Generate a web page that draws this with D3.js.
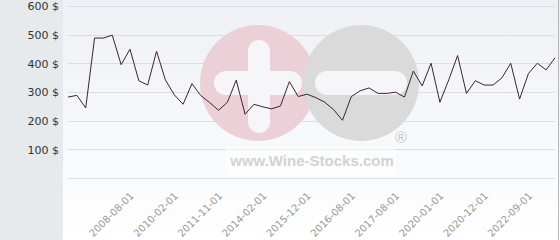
<!DOCTYPE html>
<html>
<head>
<meta charset="utf-8">
<script src="https://cdn.jsdelivr.net/npm/d3@7"></script>
<style>
  html, body { margin: 0; padding: 0; background: #fff; }
  svg { display: block; font-family: "DejaVu Sans", sans-serif; }
</style>
</head>
<body>
<div id="chart"></div>
<script>
// price per sale, in order
const prices = [
  284, 290, 246, 490, 490, 500, 397, 451, 341, 326,
  444, 344, 292, 259, 331, 289, 265, 238, 266, 343,
  224, 259, 250, 243, 253, 338, 286, 294, 282, 266,
  240, 203, 286, 306, 316, 297, 297, 301, 284, 375,
  323, 402, 266, 344, 429, 297, 341, 326, 326, 351,
  402, 277, 366, 402, 379, 421
];
const tickIndices = [7, 12, 17, 22, 27, 32, 37, 42, 47, 52];
const tickLabels = ["2008-08-01", "2010-02-01", "2011-11-01", "2014-02-01", "2015-12-01",
  "2016-08-01", "2017-08-01", "2020-01-01", "2020-12-01", "2022-09-01"];
const yTicks = [0, 100, 200, 300, 400, 500, 600];

const W = 560, H = 240;
const plotLeft = 68, plotRight = 555, plotTop = 6.5, plotBottom = 178.5;

const svg = d3.select("#chart").append("svg")
  .attr("width", W)
  .attr("height", H);

const defs = svg.append("defs");
const grad = defs.append("linearGradient")
  .attr("id", "bg")
  .attr("x1", 0).attr("y1", 0).attr("x2", 0).attr("y2", 1);
grad.append("stop").attr("offset", "0%").attr("stop-color", "#eef0f5");
grad.append("stop").attr("offset", "100%").attr("stop-color", "#ffffff");

svg.append("rect")
  .attr("x", 63).attr("y", 0)
  .attr("width", W - 63).attr("height", H)
  .attr("fill", "url(#bg)");

svg.append("rect")
  .attr("x", 0).attr("y", 0)
  .attr("width", 63).attr("height", H)
  .attr("fill", "#e6eaed");

svg.append("line")
  .attr("x1", 558.5).attr("x2", 558.5)
  .attr("y1", 0).attr("y2", H)
  .attr("stroke", "#b4b4b4");

const x = d3.scalePoint()
  .domain(d3.range(prices.length))
  .range([plotLeft, plotRight]);

const y = d3.scaleLinear()
  .domain([0, 600])
  .range([plotBottom, plotTop]);

// grid
svg.append("g")
  .selectAll("line")
  .data(yTicks)
  .enter()
  .append("line")
  .attr("x1", plotLeft).attr("x2", plotRight)
  .attr("y1", d => Math.round(y(d) - 0.5) + 0.5)
  .attr("y2", d => Math.round(y(d) - 0.5) + 0.5)
  .attr("stroke", "#dcdde0");

// watermark
const wm = svg.append("g");
wm.append("circle").attr("cx", 258).attr("cy", 83).attr("r", 58).attr("fill", "#ebd0d8");
wm.append("circle").attr("cx", 361).attr("cy", 83).attr("r", 58).attr("fill", "#dadadb");
wm.append("rect").attr("x", 248).attr("y", 40).attr("width", 22).attr("height", 93)
  .attr("rx", 11).attr("fill", "#f6f6f9");
wm.append("rect").attr("x", 214).attr("y", 71).attr("width", 88).attr("height", 24)
  .attr("rx", 12).attr("fill", "#f6f6f9");
wm.append("rect").attr("x", 315).attr("y", 71).attr("width", 92).attr("height", 24)
  .attr("rx", 12).attr("fill", "#f6f6f9");
wm.append("rect").attr("x", 226).attr("y", 147).attr("width", 170).attr("height", 28)
  .attr("fill", "#ffffff").attr("opacity", 0.5);
wm.append("text")
  .attr("x", 312).attr("y", 166)
  .attr("text-anchor", "middle")
  .attr("font-family", "Liberation Sans, Arial, sans-serif")
  .attr("font-weight", "bold")
  .attr("font-size", 15)
  .attr("fill", "#d2d2d4")
  .text("www.Wine-Stocks.com");
wm.append("text")
  .attr("x", 401).attr("y", 143)
  .attr("text-anchor", "middle")
  .attr("font-family", "Liberation Sans, Arial, sans-serif")
  .attr("font-size", 16)
  .attr("fill", "#c8c8ca")
  .text("®");

// y labels
svg.append("g")
  .selectAll("text")
  .data(yTicks.filter(d => d > 0))
  .enter()
  .append("text")
  .attr("x", 59)
  .attr("y", d => y(d))
  .attr("dy", "0.35em")
  .attr("text-anchor", "end")
  .attr("font-size", 11)
  .attr("fill", "#333")
  .text(d => d + " $");

// x labels
svg.append("g")
  .selectAll("text")
  .data(tickIndices)
  .enter()
  .append("text")
  .attr("transform", d => `translate(${x(d) + 2},${194}) rotate(-45)`)
  .attr("text-anchor", "end")
  .attr("dy", "0.35em")
  .attr("font-size", 10)
  .attr("fill", "#999")
  .text((d, i) => tickLabels[i]);

// price line
const line = d3.line()
  .x((d, i) => x(i))
  .y(d => y(d));

svg.append("path")
  .datum(prices)
  .attr("d", line)
  .attr("fill", "none")
  .attr("stroke", "#3a2430")
  .attr("stroke-width", 1);
</script>
</body>
</html>
